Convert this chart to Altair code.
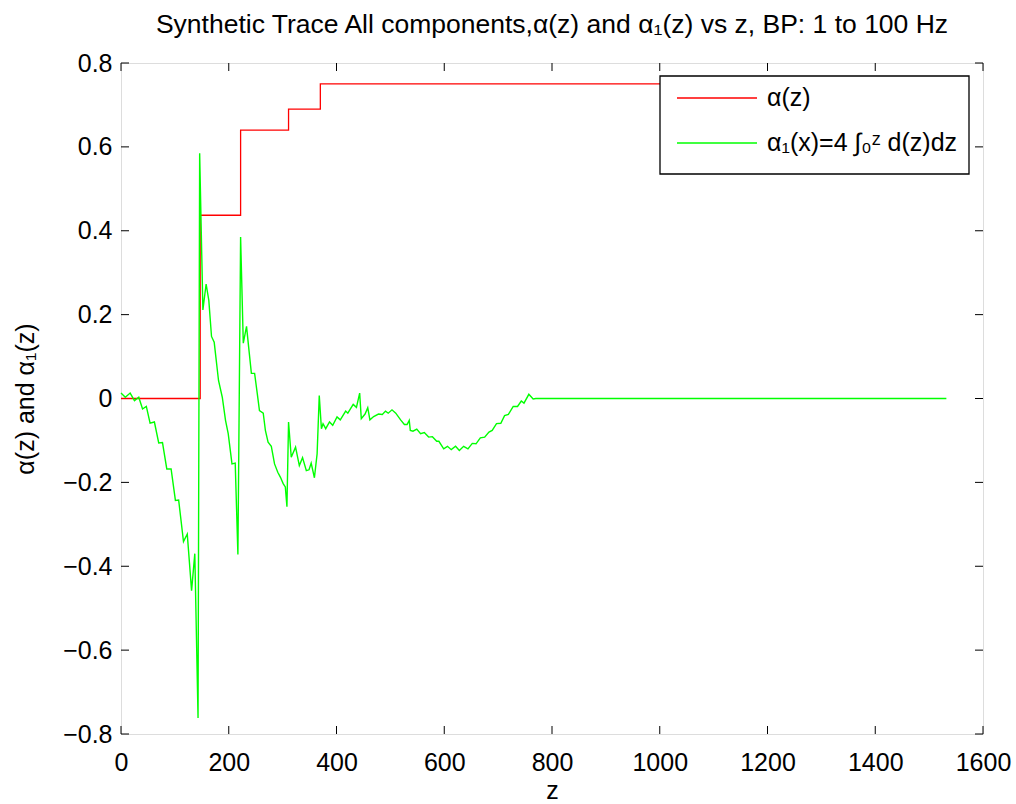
import altair as alt
import pandas as pd

# ---- data ----
z_alpha = [0, 147, 222, 311, 370, 1532]
alpha = [0.0, 0.437, 0.64, 0.69, 0.75, 0.75]

z_alpha1 = [0, 8, 17, 25, 33, 40, 47, 54, 62, 70, 77, 85, 93, 101, 107, 116, 123, 131, 137, 143,
            146, 152, 158, 163, 168, 173, 181, 188, 194, 199, 206, 212, 217, 222, 227, 233, 237, 242,
            248, 253, 257, 264, 268, 273, 279, 285, 291, 296, 301, 305, 308, 311, 316, 324, 331, 337,
            344, 349, 353, 359, 364, 368, 372, 375, 380, 387, 393, 401, 407, 417, 421, 431, 437, 443,
            446, 453, 458, 462, 469, 478, 485, 491, 496, 503, 510, 519, 526, 531, 535, 537, 542, 549,
            556, 563, 571, 578, 586, 590, 599, 606, 613, 621, 628, 636, 644, 652, 659, 667, 675, 683,
            689, 697, 705, 712, 719, 728, 736, 743, 748, 757, 765, 770, 1532]
alpha1 = [0.013, 0.003, 0.013, -0.005, 0.003, -0.025, -0.019, -0.059, -0.056, -0.106, -0.105, -0.168,
          -0.168, -0.243, -0.242, -0.341, -0.323, -0.458, -0.370, -0.762,
          0.585, 0.211, 0.273, 0.234, 0.148, 0.134, 0.043, 0.003, -0.052, -0.084, -0.156, -0.154,
          -0.372, 0.385, 0.132, 0.172, 0.122, 0.060,
          0.060, 0.011, -0.029, -0.035, -0.076, -0.104, -0.114, -0.156, -0.176, -0.188, -0.203, -0.211,
          -0.258, -0.056, -0.140, -0.116, -0.160, -0.141,
          -0.172, -0.170, -0.154, -0.189, -0.132, 0.007, -0.072, -0.060, -0.072, -0.056, -0.064, -0.044,
          -0.051, -0.030, -0.035, -0.014, -0.021, 0.013,
          -0.048, -0.037, -0.022, -0.051, -0.043, -0.037, -0.038, -0.030, -0.035, -0.027, -0.035, -0.051,
          -0.062, -0.062, -0.052, -0.076, -0.078, -0.073,
          -0.084, -0.081, -0.092, -0.091, -0.102, -0.102, -0.120, -0.114, -0.122, -0.114, -0.124, -0.114,
          -0.120, -0.107, -0.108, -0.094, -0.092, -0.080,
          -0.076, -0.060, -0.059, -0.041, -0.038, -0.019, -0.019, -0.006, -0.011, 0.010, -0.001, 0.0, 0.0]

x_ticks = [0, 200, 400, 600, 800, 1000, 1200, 1400, 1600]
y_ticks = [-0.8, -0.6, -0.4, -0.2, 0.0, 0.2, 0.4, 0.6, 0.8]

LAB_A = "α(z)"
LAB_B = "α₁(x)=4 ∫₀ᶻ d(z)dz"
TITLE = "Synthetic Trace All components,α(z) and α₁(z) vs z, BP: 1 to 100 Hz"
FONT = "Liberation Sans"
RED, GREEN = "#ff0000", "#00ff00"

W, H = 862, 671
TL = 8

df_a = pd.DataFrame({"z": z_alpha, "v": alpha})
df_b = pd.DataFrame({"z": z_alpha1, "v": alpha1})
df_xt = pd.DataFrame({"z": x_ticks})
df_yt = pd.DataFrame({"v": y_ticks})
df_lab_a = pd.DataFrame({"label": [LAB_A]})
df_lab_b = pd.DataFrame({"label": [LAB_B]})

xs = alt.Scale(domain=[0, 1600], nice=False, zero=False)
ys = alt.Scale(domain=[-0.8, 0.8], nice=False, zero=False)

xaxis = alt.Axis(values=x_ticks, ticks=False, domain=False, grid=False, labelFont=FONT,
                 labelFontSize=25, labelColor="black", labelPadding=16, format="d",
                 labelFlush=False, labelOverlap=False,
                 titleFont=FONT, titleFontSize=25, titleFontWeight="normal", titleColor="black",
                 titleY=64, titleBaseline="alphabetic")
yaxis = alt.Axis(values=y_ticks, ticks=False, domain=False, grid=False, labelFont=FONT,
                 labelFontSize=25, labelColor="black", labelPadding=9,
                 labelFlush=False, labelOverlap=False,
                 labelExpr="datum.value == 0 ? '0' : format(datum.value, '.1f')",
                 titleFont=FONT, titleFontSize=25, titleFontWeight="normal", titleColor="black",
                 titleX=-88, titleY=H / 2, titleBaseline="alphabetic", titleAngle=270)

red = alt.Chart(df_a).mark_line(interpolate="step-after", strokeWidth=1.3, color=RED).encode(
    x=alt.X("z:Q", scale=xs, axis=xaxis, title="z"),
    y=alt.Y("v:Q", scale=ys, axis=yaxis, title="α(z) and α₁(z)"),
)
green = alt.Chart(df_b).mark_line(strokeWidth=1.4, color=GREEN).encode(
    x=alt.X("z:Q", title="z"),
    y=alt.Y("v:Q", title="α(z) and α₁(z)"),
)

tick_bottom = alt.Chart(df_xt).mark_rule(color="black", strokeWidth=1).encode(
    x=alt.X("z:Q", title="z"), y=alt.value(H), y2=alt.value(H - TL))
tick_top = alt.Chart(df_xt).mark_rule(color="black", strokeWidth=1).encode(
    x=alt.X("z:Q", title="z"), y=alt.value(0), y2=alt.value(TL))
tick_left = alt.Chart(df_yt).mark_rule(color="black", strokeWidth=1).encode(
    y=alt.Y("v:Q", title="α(z) and α₁(z)"), x=alt.value(0), x2=alt.value(TL))
tick_right = alt.Chart(df_yt).mark_rule(color="black", strokeWidth=1).encode(
    y=alt.Y("v:Q", title="α(z) and α₁(z)"), x=alt.value(W), x2=alt.value(W - TL))

# legend (drawn as marks so its box and spacing match the reference)
leg_box = alt.Chart(df_lab_a).mark_rect(fill="white", stroke="black", strokeWidth=1.3).encode(
    x=alt.value(539), x2=alt.value(848), y=alt.value(13), y2=alt.value(111))
leg_red = alt.Chart(df_lab_a).mark_rule(color=RED, strokeWidth=1.3).encode(
    x=alt.value(556), x2=alt.value(636), y=alt.value(35))
leg_green = alt.Chart(df_lab_b).mark_rule(color=GREEN, strokeWidth=1.3).encode(
    x=alt.value(556), x2=alt.value(636), y=alt.value(80))
leg_txt_a = alt.Chart(df_lab_a).mark_text(align="left", baseline="middle", font=FONT, fontSize=25,
                                          color="black").encode(
    x=alt.value(646), y=alt.value(35), text="label:N")
leg_txt_b = alt.Chart(df_lab_b).mark_text(align="left", baseline="middle", font=FONT, fontSize=25,
                                          color="black").encode(
    x=alt.value(646), y=alt.value(80), text="label:N")

chart = alt.layer(tick_bottom, tick_top, tick_left, tick_right, red, green,
                  leg_box, leg_red, leg_green, leg_txt_a, leg_txt_b).properties(
    width=W, height=H,
    autosize=alt.AutoSizeParams(type="none"),
    padding={"left": 121, "top": 63, "right": 33, "bottom": 70},
    title=alt.TitleParams(TITLE, font=FONT, fontSize=26.5, fontWeight="normal", color="black",
                          anchor="middle", frame="group", offset=1, dy=9, baseline="alphabetic"),
).configure_view(stroke="black", strokeWidth=1.3).configure(background="white")

chart.save("out.html", embed_options={"renderer": "svg", "actions": False})
